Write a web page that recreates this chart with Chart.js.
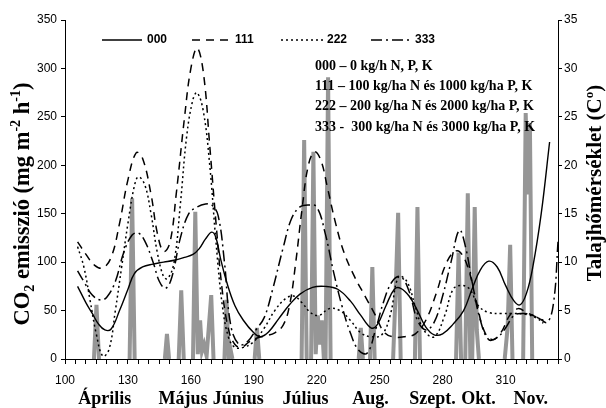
<!DOCTYPE html>
<html>
<head>
<meta charset="utf-8">
<script src="https://cdn.jsdelivr.net/npm/chart.js@4.4.1/dist/chart.umd.min.js"></script>
<style>
  html, body { margin: 0; padding: 0; background: #fff; }
</style>
</head>
<body>
<canvas id="chart" width="606" height="408"></canvas>
<script>
'use strict';

// --- Data (day of year -> CO2 emission, mg m-2 h-1) ---
const days000 = [106, 110, 113, 116, 119, 122, 126, 130, 133, 137, 142, 147, 152, 157, 161, 164, 167, 170, 172, 174, 177, 181, 185, 190, 193, 197, 202, 207, 212, 218, 224, 230, 236, 241, 246, 249, 253, 257, 260, 264, 268, 272, 276, 280, 285, 290, 294, 298, 302, 306, 310, 314, 317, 320, 323, 327, 331];
const vals000 = [75, 58, 47, 36, 30, 31, 50, 72, 88, 95, 98, 100, 102, 105, 108, 114, 124, 131, 125, 105, 80, 55, 40, 27, 23, 28, 42, 56, 67, 74, 75, 72, 60, 45, 32, 36, 55, 72, 73, 65, 50, 33, 25, 26, 36, 50, 72, 92, 101, 95, 76, 60, 56, 68, 95, 150, 224];

const days111 = [106, 110, 114, 118, 122, 126, 130, 134, 137, 141, 144, 147, 150, 153, 157, 160, 163, 166, 169, 172, 175, 178, 181, 184, 188, 192, 196, 200, 204, 207, 210, 213, 216, 219, 222, 225, 229, 233, 238, 243, 248, 252, 256, 262, 267, 272, 277, 281, 285, 288, 292, 296, 300, 304, 308, 312, 316, 320, 324, 328];
const vals111 = [121, 108, 97, 94, 105, 140, 185, 213, 207, 170, 130, 111, 120, 170, 250, 300, 321, 295, 220, 140, 70, 30, 15, 12, 18, 22, 24, 27, 35, 55, 100, 155, 200, 214, 205, 178, 140, 110, 85, 65, 45, 28, 23, 23, 26, 40, 68, 95, 110, 111, 95, 60, 28, 20, 28, 45, 52, 48, 44, 40];

const days222 = [106, 109, 112, 115, 118, 121, 124, 127, 130, 133, 135, 138, 141, 144, 147, 149, 152, 155, 158, 161, 163, 166, 169, 172, 175, 178, 181, 185, 190, 195, 200, 205, 209, 213, 217, 221, 226, 231, 236, 241, 246, 251, 255, 259, 263, 267, 271, 276, 281, 285, 289, 293, 297, 302, 308, 314, 320, 325, 328];
const vals222 = [116, 95, 60, 25, 3, 10, 50, 95, 140, 178, 188, 180, 150, 110, 85, 83, 100, 160, 230, 268, 275, 255, 200, 120, 55, 22, 12, 12, 18, 32, 50, 62, 65, 58, 48, 45, 52, 50, 40, 27, 23, 25, 45, 85, 80, 54, 30, 23, 45, 72, 76, 72, 55, 48, 47, 47, 46, 42, 37];

const days333 = [106, 109, 113, 117, 120, 124, 128, 132, 135, 138, 142, 145, 148, 151, 155, 159, 163, 167, 170, 173, 176, 179, 183, 187, 191, 195, 199, 204, 208, 212, 216, 220, 224, 228, 232, 236, 240, 244, 248, 252, 256, 260, 264, 268, 272, 276, 280, 284, 288, 291, 294, 298, 302, 306, 310, 314, 318, 322, 326, 330, 333, 335];
const vals333 = [91, 80, 66, 61, 64, 80, 110, 128, 130, 122, 100, 80, 73, 85, 125, 150, 157, 160, 159, 148, 100, 35, 15, 18, 30, 43, 72, 115, 145, 157, 159, 157, 130, 90, 55, 27, 9, 6, 30, 60, 80, 85, 70, 40, 30, 38, 65, 100, 133, 115, 80, 40, 20, 22, 32, 45, 47, 46, 42, 38, 60, 121];

// --- Soil temperature spikes (right axis, C) ---
const tempDays = [113.8, 115, 116.2, null, 130.8, 132, 133.2, null, 147.6, 148.6, 149.6, null, 154.2, 155.4, 156.6, null,
  161, 162.1, 163.3, 164.4, 165.3, 166.3, 167.5, 169.7, 170.8, null, 176, 177, 178, 178.8, 179.8, null, 190.4, 191.5, 192.6, null,
  212.8, 214, 215.2, null, 217.3, 218.4, 219.5, 220.5, 221.5, 222.4, 223.4, null, 224.2, 225.4, 226.6, null,
  240, 241, 242, null, 245.4, 246.5, 247.6, null, 256.4, 257.6, 258.8, 260, null, 266.8, 268, 269.2, null,
  286.4, 287.6, 288.8, null, 290.8, 292, 293.2, null, 294.1, 295.3, 296.3, 297.3, null,
  309.6, 311, 312.2, 313.3, null, 318.4, 319.6, 320.6, 321.6, 322.7];
const tempVals = [0, 5.6, 0, null, 0, 16.6, 0, null, 0, 2.6, 0, null, 0, 7.1, 0, null,
  0, 15.2, 0.5, 4.0, 0.8, 1.5, 0.3, 6.6, 0, null, 0, 6.1, 0.3, 1.1, 0, null, 0, 3.2, 0, null,
  0, 22.6, 0, null, 0, 21.4, 0.5, 4.5, 1.5, 4.0, 0, null, 0, 29.1, 0, null,
  0, 3.2, 0, null, 0, 9.5, 0, null, 0, 7, 15.1, 0, null, 0, 15.7, 0, null,
  0, 11, 0, null, 0, 17.1, 0, null, 0, 15.7, 3, 0, null,
  0, 3.3, 11.8, 0, null, 0, 25.4, 17, 24.4, 0];

// --- Labels ---
const xTickLabels = [100, 130, 160, 190, 220, 250, 280, 310];
const monthNames = ['Április', 'Május', 'Június', 'Július', 'Aug.', 'Szept.', 'Okt.', 'Nov.'];
const monthDays = [119, 156.3, 182.6, 214.6, 245.6, 275.2, 297.1, 322];
const seriesNames = ['000', '111', '222', '333'];
const notes = [
  '000 – 0 kg/h N, P, K',
  '111 – 100 kg/ha N és 1000 kg/ha P, K',
  '222 – 200 kg/ha N és 2000 kg/ha P, K',
  '333 -  300 kg/ha N és 3000 kg/ha P, K'
];

const dashes = [[], [8, 6], [2, 3], [11, 4, 2, 4]];
const widths = [1.4, 1.5, 1.5, 1.5];

function pts(days, vals) {
  return days.map((d, i) => ({ x: d, y: vals[i] }));
}

// rotated title with sub/superscripts
function drawRich(ctx, parts, x, y, size) {
  ctx.save();
  ctx.translate(x, y);
  ctx.rotate(-Math.PI / 2);
  const fontFor = k => 'bold ' + (k === 'n' ? size : Math.round(size * 0.62)) + 'px "Liberation Serif"';
  let total = 0;
  parts.forEach(p => { ctx.font = fontFor(p[1]); total += ctx.measureText(p[0]).width; });
  let cx = -total / 2;
  ctx.textBaseline = 'alphabetic';
  ctx.textAlign = 'left';
  ctx.fillStyle = '#000';
  parts.forEach(p => {
    ctx.font = fontFor(p[1]);
    const dy = p[1] === 'sub' ? size * 0.22 : p[1] === 'sup' ? -size * 0.4 : 0;
    ctx.fillText(p[0], cx, dy);
    cx += ctx.measureText(p[0]).width;
  });
  ctx.restore();
}

const decor = {
  id: 'decor',
  afterDraw(chart) {
    const ctx = chart.ctx;
    const xs = chart.scales.x;
    ctx.save();
    // legend line samples
    const sx = [[102, 142, 147], [192, 230, 235], [281, 325, 327], [371, 412, 415]];
    sx.forEach((s, i) => {
      ctx.beginPath();
      ctx.setLineDash(dashes[i]);
      ctx.lineWidth = widths[i];
      ctx.strokeStyle = '#000';
      ctx.moveTo(s[0], 40);
      ctx.lineTo(s[1], 40);
      ctx.stroke();
      ctx.setLineDash([]);
      ctx.font = 'bold 12px "Liberation Sans"';
      ctx.fillStyle = '#000';
      ctx.textBaseline = 'middle';
      ctx.textAlign = 'left';
      ctx.fillText(seriesNames[i], s[2], 40);
    });
    // notes
    ctx.font = 'bold 14px "Liberation Serif"';
    notes.forEach((t, i) => ctx.fillText(t, 315, 66 + i * 20.3));
    // months
    ctx.font = 'bold 18px "Liberation Serif"';
    ctx.textAlign = 'center';
    ctx.textBaseline = 'alphabetic';
    monthNames.forEach((m, i) => ctx.fillText(m, xs.getPixelForValue(monthDays[i]), 404));
    ctx.restore();
    // axis titles
    drawRich(ctx, [['CO', 'n'], ['2', 'sub'], [' emisszió (mg m', 'n'], ['-2', 'sup'], [' h', 'n'], ['-1', 'sup'], [')', 'n']], 29, 204, 22.5);
    drawRich(ctx, [['Talajhőmérséklet (C', 'n'], ['o', 'sup'], [')', 'n']], 601, 183, 21);
  }
};

const lineSets = [pts(days000, vals000), pts(days111, vals111), pts(days222, vals222), pts(days333, vals333)].map((d, i) => ({
  data: d,
  borderColor: '#000',
  borderWidth: widths[i],
  borderDash: dashes[i],
  tension: 0.4,
  fill: false,
  yAxisID: 'y'
}));

const tempSet = {
  data: tempDays.map((d, i) => ({ x: d, y: tempVals[i] })),
  borderColor: '#969696',
  borderWidth: 4,
  tension: 0,
  spanGaps: false,
  fill: false,
  yAxisID: 'y1'
};

new Chart(document.getElementById('chart').getContext('2d'), {
  type: 'line',
  data: { datasets: lineSets.concat([tempSet]) },
  options: {
    responsive: false,
    animation: false,
    layout: { padding: { top: 20, left: 0, right: 0, bottom: 0 } },
    plugins: { legend: { display: false }, tooltip: { enabled: false } },
    elements: { point: { radius: 0 } },
    scales: {
      x: {
        type: 'linear', min: 100, max: 335,
        afterBuildTicks: s => {
          const t = [];
          for (let v = 100; v <= 335; v += 5) t.push({ value: v });
          s.ticks = t;
        },
        afterFit: s => { s.height = 49; },
        grid: { drawOnChartArea: false, tickLength: 5, color: '#000' },
        border: { color: '#000', width: 1 },
        ticks: {
          autoSkip: false, maxRotation: 0, padding: 9, color: '#000',
          font: { family: 'Liberation Sans', size: 12 },
          callback: v => xTickLabels.includes(v) ? String(v) : ''
        }
      },
      y: {
        position: 'left', min: 0, max: 350,
        afterFit: s => { s.width = 65; },
        grid: { drawOnChartArea: false, tickLength: 4, color: '#000' },
        border: { color: '#000', width: 1 },
        ticks: { stepSize: 50, padding: 4, color: '#000', font: { family: 'Liberation Sans', size: 12 } }
      },
      y1: {
        position: 'right', min: 0, max: 35,
        afterFit: s => { s.width = 48; },
        grid: { drawOnChartArea: false, tickLength: 4, color: '#000' },
        border: { color: '#000', width: 1 },
        ticks: { stepSize: 5, padding: 2, color: '#000', font: { family: 'Liberation Sans', size: 12 } }
      }
    }
  },
  plugins: [decor]
});
</script>
</body>
</html>
